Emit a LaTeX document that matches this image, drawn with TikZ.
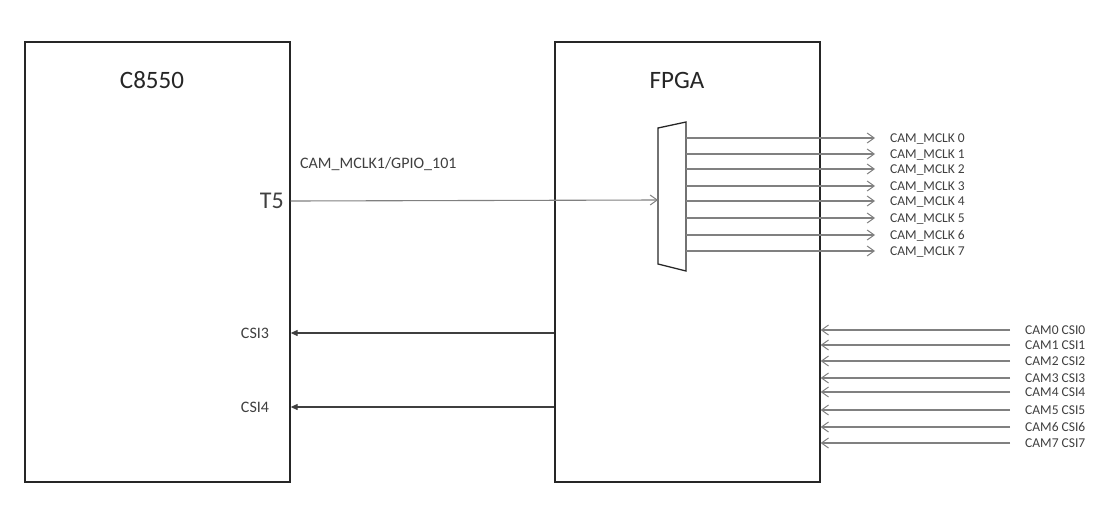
\documentclass[tikz,border=0pt]{standalone}
\usepackage{fontspec}
\setmainfont{Carlito}
\usetikzlibrary{arrows.meta, positioning}
\definecolor{boxline}{HTML}{262626}
\definecolor{sigline}{HTML}{808080}
\definecolor{labeltext}{HTML}{3F3F3F}
\tikzset{
  chip/.style={draw=boxline, line width=1.3pt, minimum width=265pt, minimum height=440pt, inner sep=0pt},
  chiptitle/.style={font=\fontsize{25}{30}\selectfont, text=black!85},
  pinlabel/.style={font=\fontsize{16}{19}\selectfont, text=labeltext, inner sep=0pt},
  siglabel/.style={font=\fontsize{13.5}{16}\selectfont, text=labeltext, inner sep=0pt, text height=8.4pt, text depth=0pt},
  sig/.style={draw=sigline, line width=1.1pt},
  openarrow/.style={-{Straight Barb[length=7pt,width=10pt,line width=1pt]}},
  fillarrow/.style={-{Triangle[length=7pt,width=6pt]}, draw=labeltext}
}
\begin{document}
\begin{tikzpicture}[x=1pt,y=-1pt]
  \useasboundingbox (0,0) rectangle (1119,517);
  % Draw chips
  \node[chip] (c8550) at (157.5,262) {};
  \node[chip] (fpga) at (687.5,262) {};
  \node[chiptitle] (c8550title) at (152,80) {C8550};
  \node[chiptitle] (fpgatitle) at (677,80) {FPGA};
  % Mux inside the FPGA
  \draw[boxline, line width=1.3pt] (658,128) coordinate (muxtl) -- (686,122) coordinate (muxtr)
    -- (686,271) coordinate (muxbr) -- (658,264) coordinate (muxbl) -- cycle;
  \coordinate (muxin) at (658,200);
  % Clock pin
  \node[pinlabel, font=\fontsize{24}{28}\selectfont, anchor=east] (t5) at (284,201) {T5};
  \node[pinlabel, anchor=base west] (mclklabel) at (300,168) {CAM\_MCLK1/GPIO\_101};
  \draw[sig, openarrow] (c8550.east |- t5) -- (muxin);
  % CSI pins
  \node[pinlabel] (csi3) at (255,333) {CSI3};
  \node[pinlabel] (csi4) at (255,407) {CSI4};
  \draw[sig, fillarrow] (fpga.west |- csi3) -- (c8550.east |- csi3);
  \draw[sig, fillarrow] (fpga.west |- csi4) -- (c8550.east |- csi4);
  % Clock outputs
  \foreach \y [count=\i from 0] in {138,154,169,186,201,218,235,251} {
    \node[siglabel, anchor=west] (mclk\i) at (890,\y) {CAM\_MCLK \i};
    \draw[sig, openarrow, shorten >=15pt] (muxtr |- mclk\i) -- (mclk\i.west);
  }
  % Camera inputs
  \foreach \y [count=\i from 0] in {330,345,361,378,392,410,427,443} {
    \node[siglabel, anchor=west] (cam\i) at (1025,\y) {CAM\i{} CSI\i};
    \draw[sig, openarrow, shorten <=15pt] (cam\i.west) -- (fpga.east |- cam\i);
  }
\end{tikzpicture}
\end{document}
